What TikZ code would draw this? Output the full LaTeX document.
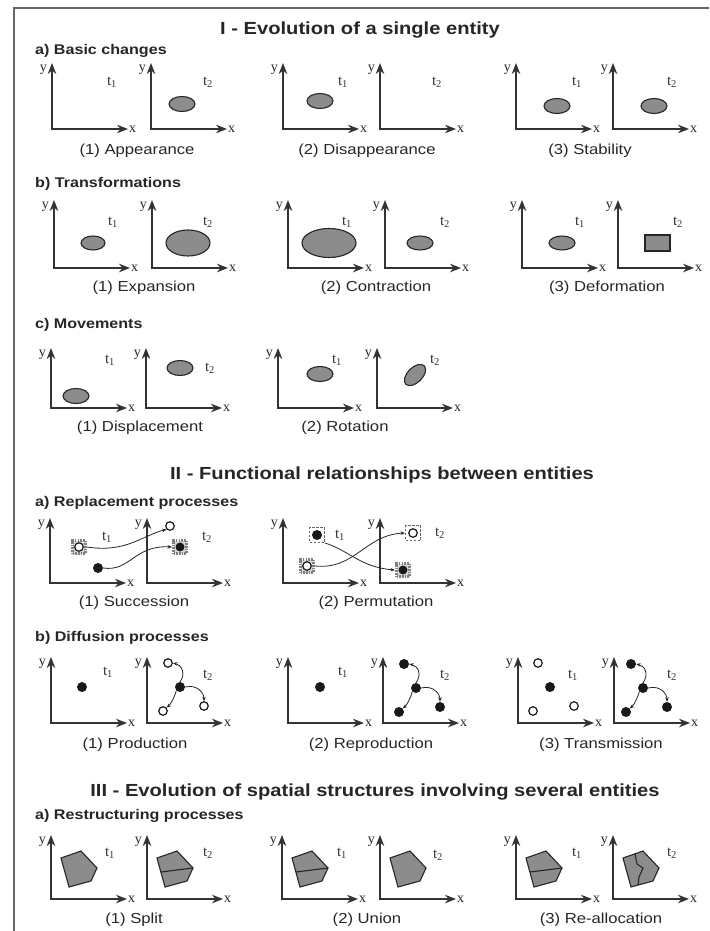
\documentclass[tikz,border=0pt]{standalone}
\usepackage{fontspec}
\setmainfont{Liberation Sans}[FakeStretch=1.15]
\newfontfamily\serfont{Liberation Serif}
\usepackage{tikz}
\usetikzlibrary{arrows.meta}

\begin{document}
\begin{tikzpicture}[x=1pt, y=-1pt,
	axis/.style={draw=black!80, line width=1.6pt, line join=miter, {Stealth[length=11pt,width=8.5pt]}-{Stealth[length=11pt,width=8.5pt]}},
	axlab/.style={inner sep=0pt, text=black!85, font=\serfont\fontsize{14}{16}\selectfont},
	tlab/.style={inner sep=0pt, text=black!80, font=\serfont\fontsize{15}{17}\selectfont},
	hdr/.style={inner sep=0pt, text=black!85, font=\bfseries\fontsize{17.5}{20}\selectfont},
	subhd/.style={inner sep=0pt, anchor=west, text=black!85, font=\bfseries\fontsize{14}{16}\selectfont},
	capt/.style={inner sep=0pt, text=black!85, font=\fontsize{14.5}{17}\selectfont},
	ent/.style={draw=black!85, line width=1.1pt, fill=black!45},
	cut/.style={draw=black!85, line width=1.1pt},
	blk/.style={circle, fill=black!90, inner sep=0pt, minimum size=10pt},
	hol/.style={circle, draw=black!90, line width=1.2pt, fill=white, inner sep=0pt, minimum size=8.5pt},
	dense/.style={draw=black!50, line width=3pt, dash pattern=on 1.6pt off 1.1pt, fill=black!15, inner sep=0pt, minimum size=13pt},
	sparse/.style={draw=black!60, line width=1pt, dash pattern=on 2.5pt off 1.5pt, inner sep=0pt, minimum size=15pt},
	flow/.style={draw=black!85, line width=0.8pt, -{Stealth[length=4.5pt,width=3.5pt]}}]
	\useasboundingbox (0,0) rectangle (709,931);
	\draw[black!60, line width=1.8pt] (14,931) -- (14,8) -- (709,8);
	\foreach \ox/\oy/\h in {52/129/66, 151/129/66, 283/129/66, 380/129/66, 516/129/66, 613/129/66,
		54/268/68, 152/268/68, 288/268/68, 385/268/68, 522/268/68, 618/268/68,
		51/408/60, 146/408/60, 278/408/60, 377/408/60,
		50/583/65, 147/583/65, 283/583/65, 380/583/65,
		51/723/66, 147/723/66, 288/723/66, 383/723/66, 518/723/66, 614/723/66,
		51/899/64, 147/899/64, 282/899/64, 380/899/64, 516/899/64, 613/899/64}
	{
		\draw[axis] (\ox,\oy-\h) -- (\ox,\oy) -- (\ox+76,\oy);
		\node[axlab, anchor=east] (y-\ox-\oy) at (\ox-5,\oy-\h+7) {y};
		\node[axlab, anchor=west] (x-\ox-\oy) at (\ox+77,\oy) {x};
	}
	\foreach \tx/\ty/\n [count=\i] in {112/82/1, 208/82/2, 343/82/1, 437/82/2, 577/82/1, 672/82/2,
		113/222/1, 208/222/2, 347/222/1, 445/222/2, 580/222/1, 678/222/2,
		110/360/1, 210/368/2, 337/360/1, 435/360/2,
		107/537/1, 207/537/2, 340/535/1, 440/533/2,
		108/672/1, 208/675/2, 343/672/1, 445/675/2, 573/675/1, 672/675/2,
		110/853/1, 208/853/2, 342/853/1, 438/855/2, 577/853/1, 672/853/2}
	\node[tlab] (t\i) at (\tx,\ty) {t\textsubscript{\n}};
	
	\node[hdr] (hI) at (360,30) {I - Evolution of a single entity};
	\node[subhd] (sIa) at (35,51) {a) Basic changes};
	\draw[ent] (182,104) ellipse [x radius=13, y radius=7.5];
	\draw[ent] (320,101) ellipse [x radius=13, y radius=7.5];
	\draw[ent] (557,106) ellipse [x radius=13, y radius=7.5];
	\draw[ent] (654,106) ellipse [x radius=13, y radius=7.5];
	\node[capt] (cIa1) at (137,151) {(1) Appearance};
	\node[capt] (cIa2) at (367,151) {(2) Disappearance};
	\node[capt] (cIa3) at (590,151) {(3) Stability};
	
	\node[subhd] (sIb) at (35,184) {b) Transformations};
	\draw[ent] (93,243) ellipse [x radius=12, y radius=7];
	\draw[ent] (188,243) ellipse [x radius=22, y radius=13];
	\draw[ent] (329,243) ellipse [x radius=27, y radius=14.5];
	\draw[ent] (420,243) ellipse [x radius=13, y radius=7];
	\draw[ent] (562,243) ellipse [x radius=13, y radius=7];
	\draw[ent] (645,235) rectangle (670,251);
	\node[capt] (cIb1) at (144,288) {(1) Expansion};
	\node[capt] (cIb2) at (376,288) {(2) Contraction};
	\node[capt] (cIb3) at (607,288) {(3) Deformation};
	
	\node[subhd] (sIc) at (35,325) {c) Movements};
	\draw[ent] (76,396) ellipse [x radius=13, y radius=7.5];
	\draw[ent] (180,368) ellipse [x radius=13, y radius=7.5];
	\draw[ent] (320,374) ellipse [x radius=13, y radius=7.5];
	\draw[ent, rotate around={45:(415,375)}] (415,375) ellipse [x radius=13, y radius=7.5];
	\node[capt] (cIc1) at (140,428) {(1) Displacement};
	\node[capt] (cIc2) at (345,428) {(2) Rotation};
	
	\node[hdr] (hII) at (382,475) {II - Functional relationships between entities};
	\node[subhd] (sIIa) at (35,503) {a) Replacement processes};
	\node[dense] (sA) at (79,547) {};
	\node[hol] (sAc) at (sA) {};
	\node[blk] (dA) at (98,568) {};
	\node[hol] (hB) at (170,526) {};
	\node[dense] (sB) at (180,547) {};
	\node[blk, minimum size=9pt] (sBc) at (sB) {};
	\draw[flow] (sA.east) .. controls +(39,6) and +(-24,6) .. (hB.south west);
	\draw[flow] (dA.east) .. controls +(27,4) and +(-38,-2) .. (sB.west);
	\node[sparse] (sC) at (317,535) {};
	\node[blk] (sCc) at (sC) {};
	\node[dense] (sD) at (307,566) {};
	\node[hol] (sDc) at (sD) {};
	\node[sparse] (sE) at (413,533) {};
	\node[hol] (sEc) at (sE) {};
	\node[dense] (sF) at (403,570) {};
	\node[blk, minimum size=9pt] (sFc) at (sF) {};
	\draw[flow] (sC.south east) .. controls +(25,8) and +(-35,-3) .. (sF.west);
	\draw[flow] (sD.east) .. controls +(40,4) and +(-40,2) .. (sE.west);
	\node[capt] (cIIa1) at (134,603) {(1) Succession};
	\node[capt] (cIIa2) at (376,603) {(2) Permutation};
	
	\node[subhd] (sIIb) at (35,638) {b) Diffusion processes};
	\node[blk] (p1) at (82,687) {};
	\node[blk] (r1) at (320,687) {};
	\foreach \mx/\my/\kind/\nm in {180/687/hol/pr, 416/688/blk/re, 550/687/hol/tr, 643/688/blk/tt}
	{
		\node[blk] (\nm-m) at (\mx,\my) {};
		\node[\kind] (\nm-a) at (\mx-12,\my-24) {};
		\node[\kind] (\nm-b) at (\mx-17,\my+24) {};
		\node[\kind] (\nm-c) at (\mx+24,\my+19) {};
	}
	\foreach \nm in {pr,re,tt}
	{
		\draw[flow] (\nm-m.north) .. controls +(6,-8) and +(9,2) .. (\nm-a.east);
		\draw[flow] (\nm-m.south west) .. controls +(-2,7) and +(4,-3) .. (\nm-b.north east);
		\draw[flow] (\nm-m.east) .. controls +(12,-3) and +(0,-8) .. (\nm-c.north);
	}
	\node[capt] (cIIb1) at (135,745) {(1) Production};
	\node[capt] (cIIb2) at (371,745) {(2) Reproduction};
	\node[capt] (cIIb3) at (601,745) {(3) Transmission};
	
	\node[hdr] (hIII) at (375,792) {III - Evolution of spatial structures involving several entities};
	\node[subhd] (sIIIa) at (35,816) {a) Restructuring processes};
	\foreach \ox in {51,147,282,380,516,613}
	\draw[ent] (\ox+10,899-41) -- (\ox+30,899-48) -- (\ox+46,899-31) -- (\ox+40,899-18) -- (\ox+18,899-12) -- cycle;
	\foreach \ox in {147,282,516}
	\draw[cut] (\ox+14,899-27) -- (\ox+46,899-31);
	\draw[cut] (613+22,899-45.2) -- (613+24,899-35) -- (613+30,899-31) -- (613+26,899-22) -- (613+25,899-13.9);
	\node[capt] (cIIIa1) at (134,920) {(1) Split};
	\node[capt] (cIIIa2) at (367,920) {(2) Union};
	\node[capt] (cIIIa3) at (601,920) {(3) Re-allocation};
\end{tikzpicture}
\end{document}
